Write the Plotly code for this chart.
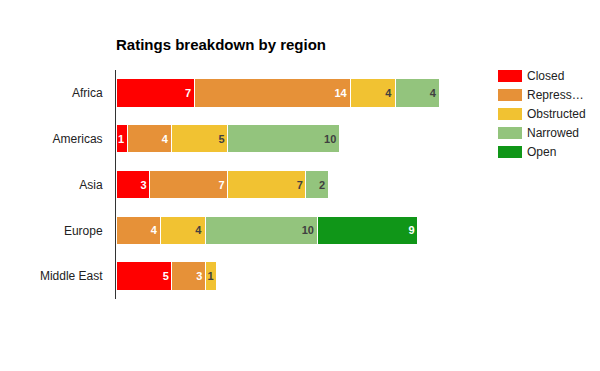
import plotly.graph_objects as go

regions = ["Africa", "Americas", "Asia", "Europe", "Middle East"]
series_names = ["Closed", "Repressed", "Obstructed", "Narrowed", "Open"]
legend_labels = ["Closed", "Repress…", "Obstructed", "Narrowed", "Open"]
closed = [7, 1, 3, None, 5]
repressed = [14, 4, 7, 4, 3]
obstructed = [4, 5, 7, 4, 1]
narrowed = [4, 10, 2, 10, None]
open_ = [None, None, None, 9, None]
values = [closed, repressed, obstructed, narrowed, open_]
colors = ["#ff0000", "#e69138", "#f1c232", "#93c47d", "#109618"]
text_colors = ["#ffffff", "#ffffff", "#404040", "#404040", "#ffffff"]

# the page body has an 8px default margin, so the figure is drawn 8px smaller
OFF = 8
W, H = 600 - OFF, 371 - OFF
PL, PT, PW, PH = 116 - OFF, 70 - OFF, 335, 229

fig = go.Figure()
for name, vals, col, tcol in zip(series_names, values, colors, text_colors):
    fig.add_trace(go.Bar(
        y=regions, x=vals, name=name, orientation="h",
        marker=dict(color=col, line=dict(color="#ffffff", width=1)),
        text=[str(v) if v else "" for v in vals],
        textposition="inside", insidetextanchor="end",
        textfont=dict(family="Arial", size=11, color=tcol, weight="bold"),
        showlegend=False,
    ))

# manual legend (Google-chart style)
for i, (lab, col) in enumerate(zip(legend_labels, colors)):
    y0 = 1 - (6 + i * 19) / PH
    fig.add_shape(type="rect", xref="paper", yref="paper",
                  x0=(498 - 116) / PW, x1=(522 - 116) / PW,
                  y0=y0 + 6 / PH, y1=y0 - 6 / PH,
                  fillcolor=col, line=dict(width=0))
    fig.add_annotation(xref="paper", yref="paper", x=(527 - 116) / PW, y=y0,
                       text=lab, showarrow=False, xanchor="left", yanchor="middle",
                       xshift=-2,
                       font=dict(family="Arial", size=12, color="#222222"))

fig.update_layout(
    barmode="stack",
    width=W, height=H,
    margin=dict(l=PL, r=W - PL - PW, t=PT, b=H - PT - PH, autoexpand=False),
    paper_bgcolor="#ffffff", plot_bgcolor="#ffffff",
    bargap=0.38,
    uniformtext=dict(mode="show", minsize=11),
    title=dict(text="<b>Ratings breakdown by region</b>", x=PL / W, xanchor="left",
               y=1 - (45 - OFF) / H, yanchor="middle",
               font=dict(family="Arial", size=15, color="#000000")),
    font=dict(family="Arial", size=12, color="#222222"),
)
fig.update_xaxes(range=[0, 30], showgrid=False, zeroline=False, showticklabels=False,
                 showline=False, fixedrange=True)
fig.update_yaxes(autorange="reversed", showgrid=False, zeroline=False, showline=True,
                 linecolor="#333333", linewidth=1, ticks="", ticklen=0, automargin=False,
                 ticklabelstandoff=10,
                 tickfont=dict(family="Arial", size=12, color="#222222"))

fig.write_html("out.html")
